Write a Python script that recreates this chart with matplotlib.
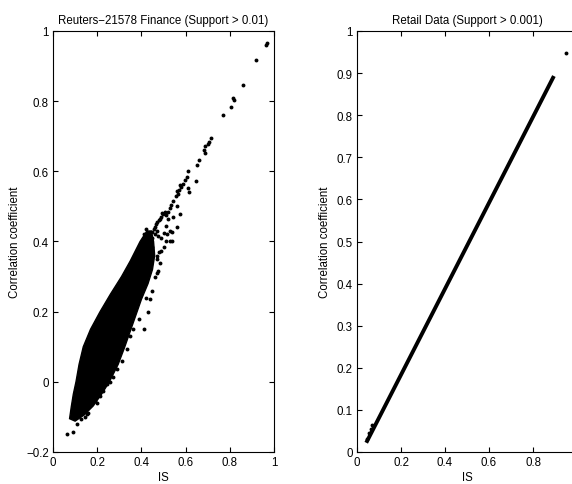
import matplotlib
matplotlib.use("Agg")
import matplotlib.pyplot as plt

plt.rcParams['font.family'] = ['Liberation Sans', 'DejaVu Sans']

# ---- Left panel: Reuters-21578 Finance (dense cloud outline + sparse points) ----
cloud_x = [0.075, 0.083, 0.092, 0.104, 0.118, 0.137, 0.17, 0.213, 0.26, 0.31, 0.35, 0.394, 0.425,
           0.445, 0.455, 0.46, 0.45, 0.43, 0.40, 0.375, 0.35, 0.325, 0.295, 0.255, 0.22, 0.18, 0.14, 0.10]
cloud_y = [-0.105, -0.07, -0.035, 0.0, 0.05, 0.10, 0.15, 0.20, 0.25, 0.30, 0.345, 0.40, 0.43,
           0.43, 0.40, 0.36, 0.32, 0.28, 0.235, 0.19, 0.145, 0.10, 0.05, 0.0, -0.035, -0.07, -0.095, -0.112]

fin_x = [0.968, 0.962, 0.92, 0.858, 0.82, 0.815, 0.805, 0.77, 0.714, 0.707, 0.70, 0.69, 0.685, 0.69,
         0.66, 0.65, 0.61, 0.605, 0.597, 0.59, 0.58, 0.57, 0.565, 0.555, 0.545, 0.535, 0.53, 0.52,
         0.51, 0.505, 0.495,
         0.647, 0.61, 0.615, 0.575, 0.56, 0.575, 0.56, 0.54, 0.56, 0.545, 0.52, 0.51, 0.53, 0.50,
         0.49, 0.51, 0.47, 0.44, 0.47, 0.48, 0.50,
         0.27, 0.245, 0.227, 0.19, 0.176, 0.153, 0.145, 0.126, 0.10, 0.213, 0.258, 0.29, 0.31,
         0.335, 0.35, 0.063, 0.09, 0.11, 0.16, 0.20,
         0.46, 0.475, 0.485, 0.47, 0.49, 0.53, 0.515, 0.54, 0.43, 0.41, 0.39, 0.36, 0.42, 0.45,
         0.43, 0.44, 0.436, 0.447, 0.455, 0.46, 0.465, 0.47, 0.478, 0.484, 0.49, 0.496,
         0.45, 0.46, 0.47, 0.475, 0.44, 0.45, 0.42, 0.41]
fin_y = [0.965, 0.96, 0.917, 0.846, 0.803, 0.81, 0.783, 0.76, 0.695, 0.683, 0.677, 0.673, 0.66, 0.652,
         0.632, 0.618, 0.60, 0.585, 0.575, 0.565, 0.555, 0.547, 0.535, 0.53, 0.515, 0.505, 0.495, 0.485,
         0.475, 0.485, 0.48,
         0.572, 0.552, 0.54, 0.56, 0.545, 0.478, 0.44, 0.40, 0.50, 0.47, 0.465, 0.445, 0.43, 0.425,
         0.41, 0.40, 0.31, 0.236, 0.35, 0.37, 0.385,
         0.014, -0.006, -0.026, -0.055, -0.063, -0.092, -0.10, -0.106, -0.10, -0.04, 0.0, 0.036, 0.06,
         0.093, 0.13, -0.149, -0.143, -0.12, -0.09, -0.06,
         0.30, 0.316, 0.34, 0.358, 0.372, 0.40, 0.42, 0.427, 0.20, 0.15, 0.18, 0.15, 0.24, 0.26,
         0.40, 0.41, 0.42, 0.427, 0.435, 0.44, 0.45, 0.455, 0.46, 0.464, 0.47, 0.478,
         0.41, 0.42, 0.43, 0.415, 0.39, 0.385, 0.435, 0.42]

# ---- Right panel: Retail Data ----
retail_line_x = [0.042, 0.895]
retail_line_y = [0.022, 0.893]
retail_pts_x = [0.045, 0.055, 0.062, 0.07, 0.95]
retail_pts_y = [0.03, 0.045, 0.055, 0.065, 0.948]

left_xticks = [0, 0.2, 0.4, 0.6, 0.8, 1]
left_xticklabels = ['0', '0.2', '0.4', '0.6', '0.8', '1']
left_yticks = [-0.2, 0, 0.2, 0.4, 0.6, 0.8, 1]
left_yticklabels = ['\u22120.2', '0', '0.2', '0.4', '0.6', '0.8', '1']
right_xticks = [0, 0.2, 0.4, 0.6, 0.8]
right_xticklabels = ['0', '0.2', '0.4', '0.6', '0.8']
right_yticks = [0, 0.1, 0.2, 0.3, 0.4, 0.5, 0.6, 0.7, 0.8, 0.9, 1]
right_yticklabels = ['0', '0.1', '0.2', '0.3', '0.4', '0.5', '0.6', '0.7', '0.8', '0.9', '1']

W, H = 572, 485
fig = plt.figure(figsize=(W / 100, H / 100), dpi=100)
fs = 8.3

def style(ax):
    for s in ax.spines.values():
        s.set_linewidth(0.8)
    ax.tick_params(direction='in', length=3.5, width=0.8, top=True, right=True,
                   labelsize=fs, pad=3)

ax1 = fig.add_axes([53 / W, (H - 453) / H, 221 / W, 421 / H])
ax1.fill(cloud_x, cloud_y, color='black', lw=1.0, edgecolor='black')
ax1.plot(fin_x, fin_y, ls='none', marker='o', ms=2.8, color='black', mew=0)
ax1.set_xlim(0, 1)
ax1.set_ylim(-0.2, 1)
ax1.set_xticks(left_xticks)
ax1.set_xticklabels(left_xticklabels)
ax1.set_yticks(left_yticks)
ax1.set_yticklabels(left_yticklabels)
style(ax1)
ax1.set_title('Reuters\u221221578 Finance (Support > 0.01)', fontsize=fs, pad=6)
ax1.set_xlabel('IS', fontsize=fs, labelpad=2)
ax1.set_ylabel('Correlation coefficient', fontsize=fs, labelpad=4)

ax2 = fig.add_axes([357 / W, (H - 453) / H, 220 / W, 421 / H])
ax2.plot(retail_line_x, retail_line_y, color='black', lw=2.8, solid_capstyle='butt')
ax2.plot(retail_pts_x, retail_pts_y, ls='none', marker='o', ms=2.8, color='black', mew=0)
ax2.set_xlim(0, 1.0)
ax2.set_ylim(0, 1)
ax2.set_xticks(right_xticks)
ax2.set_xticklabels(right_xticklabels)
ax2.set_yticks(right_yticks)
ax2.set_yticklabels(right_yticklabels)
style(ax2)
ax2.set_title('Retail Data (Support > 0.001)', fontsize=fs, pad=6)
ax2.set_xlabel('IS', fontsize=fs, labelpad=2)
ax2.set_ylabel('Correlation coefficient', fontsize=fs, labelpad=4)

fig.savefig('out.png', dpi=100)
